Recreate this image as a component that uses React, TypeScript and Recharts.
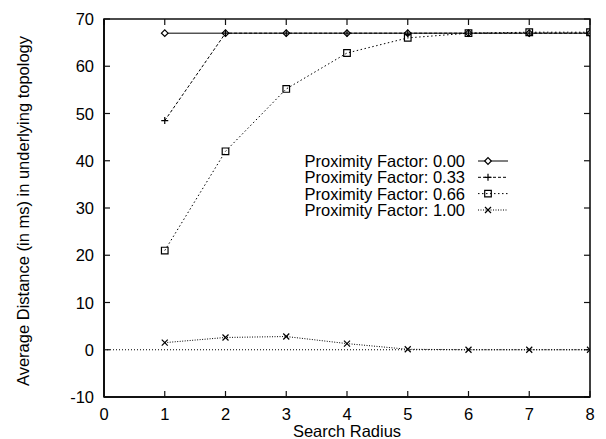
import React from 'react';
import { LineChart, Line, XAxis, YAxis, ReferenceLine, ReferenceArea, Legend } from 'recharts';

const radius = [1, 2, 3, 4, 5, 6, 7, 8];
const pf000 = [67.0, 67.0, 67.0, 67.0, 67.0, 67.0, 67.0, 67.0];
const pf033 = [48.5, 67.0, 67.0, 67.0, 67.0, 67.0, 67.0, 67.0];
const pf066 = [21.0, 42.0, 55.2, 62.8, 66.0, 67.0, 67.2, 67.2];
const pf100 = [1.5, 2.6, 2.8, 1.3, 0.1, 0.0, 0.0, 0.0];
const seriesNames = [
  'Proximity Factor: 0.00',
  'Proximity Factor: 0.33',
  'Proximity Factor: 0.66',
  'Proximity Factor: 1.00',
];
const xTicks = [0, 1, 2, 3, 4, 5, 6, 7, 8];
const yTicks = [-10, 0, 10, 20, 30, 40, 50, 60, 70];

const data = radius.map((r, i) => ({
  r,
  a: pf000[i],
  b: pf033[i],
  c: pf066[i],
  d: pf100[i],
}));

const FONT = '"Liberation Sans", Arial, Helvetica, sans-serif';
const FS = 16.5;
const INK = '#000';
const FRAME = '#111111';

const Diamond = ({ cx, cy }: any) => (
  <path d={`M${cx - 3.3},${cy} L${cx},${cy - 3.3} L${cx + 3.3},${cy} L${cx},${cy + 3.3} Z`} fill="#fff" stroke={INK} strokeWidth={1.2} />
);
const Plus = ({ cx, cy }: any) => (
  <path d={`M${cx - 3.5},${cy} L${cx + 3.5},${cy} M${cx},${cy - 3.5} L${cx},${cy + 3.5}`} stroke={INK} strokeWidth={1.2} fill="none" />
);
const Square = ({ cx, cy }: any) => (
  <path d={`M${cx - 3.3},${cy - 3.3} h6.6 v6.6 h-6.6 Z`} fill="none" stroke={INK} strokeWidth={1.2} />
);
const Cross = ({ cx, cy }: any) => (
  <path d={`M${cx - 3},${cy - 3} L${cx + 3},${cy + 3} M${cx - 3},${cy + 3} L${cx + 3},${cy - 3}`} stroke={INK} strokeWidth={1.2} fill="none" />
);

const markers = [Diamond, Plus, Square, Cross];
const dashes = [undefined, '3 2', '1.5 2.5', '1 1.5'];

const mkDot = (M: any) => (p: any) => <M key={`m-${p.index}`} cx={p.cx} cy={p.cy} />;

const BottomTick = (props: any) => {
  const { x, y, payload } = props;
  return (
    <g>
      <path d={`M${x},${y} L${x},${y - 6}`} stroke={FRAME} strokeWidth={1.2} fill="none" />
      <text x={x} y={y + 23} textAnchor="middle" fontFamily={FONT} fontSize={FS} fill={INK}>
        {payload.value}
      </text>
    </g>
  );
};
const LeftTick = (props: any) => {
  const { x, y, payload } = props;
  return (
    <g>
      <path d={`M${x},${y} L${x + 6},${y}`} stroke={FRAME} strokeWidth={1.2} fill="none" />
      <text x={x - 10} y={y + 6} textAnchor="end" fontFamily={FONT} fontSize={FS} fill={INK}>
        {payload.value}
      </text>
    </g>
  );
};

// mirrored inward ticks on the top and right edges
const TopTickShape = (p: any) => {
  const top = Math.min(p.y1, p.y2);
  return <path d={`M${p.x1},${top} L${p.x1},${top + 6}`} stroke={FRAME} strokeWidth={1.2} fill="none" />;
};
const RightTickShape = (p: any) => {
  const right = Math.max(p.x1, p.x2);
  return <path d={`M${right},${p.y1} L${right - 6},${p.y1}`} stroke={FRAME} strokeWidth={1.2} fill="none" />;
};

const YLabel = (props: any) => {
  const vb = props.viewBox || { x: 0, y: 19, width: 104, height: 378 };
  const x = vb.x + 29;
  const y = vb.y + vb.height / 2 + 3;
  return (
    <text x={x} y={y} transform={`rotate(-90 ${x} ${y})`} textAnchor="middle" fontFamily={FONT} fontSize={FS} fill={INK}>
      Average Distance (in ms) in underlying topology
    </text>
  );
};
const XLabel = (props: any) => {
  const vb = props.viewBox || { x: 104, y: 397, width: 486, height: 42 };
  return (
    <text x={vb.x + vb.width / 2} y={vb.y + 40} textAnchor="middle" fontFamily={FONT} fontSize={FS} fill={INK}>
      Search Radius
    </text>
  );
};

const LegendBox = () => {
  const rowY = [11, 27.3, 43.6, 60];
  return (
    <svg width={240} height={72} style={{ display: 'block', overflow: 'visible' }}>
      {seriesNames.map((name, i) => {
        const M = markers[i];
        return (
          <g key={name}>
            <text x={175} y={rowY[i] + 6} textAnchor="end" fontFamily={FONT} fontSize={FS} fill={INK}>
              {name}
            </text>
            <path d={`M188,${rowY[i]} L218,${rowY[i]}`} stroke={INK} strokeWidth={1} strokeDasharray={dashes[i]} fill="none" />
            <M cx={198} cy={rowY[i]} />
          </g>
        );
      })}
    </svg>
  );
};

export default function App() {
  const keys = ['a', 'b', 'c', 'd'];
  return (
    <div style={{ position: 'absolute', left: 0, top: 0, width: 606, height: 439, background: '#fff' }}>
      <LineChart width={606} height={439} data={data} margin={{ top: 19, right: 16, bottom: 0, left: 0 }}>
        <XAxis
          dataKey="r"
          type="number"
          domain={[0, 8]}
          ticks={xTicks}
          interval={0}
          height={42}
          tickSize={0}
          tickMargin={0}
          tickLine={false}
          tick={<BottomTick />}
          axisLine={{ stroke: INK, strokeWidth: 1.5 }}
          allowDataOverflow
          label={<XLabel />}
        />
        <YAxis
          type="number"
          domain={[-10, 70]}
          ticks={yTicks}
          interval={0}
          width={104}
          tickSize={0}
          tickMargin={0}
          tickLine={false}
          tick={<LeftTick />}
          axisLine={{ stroke: INK, strokeWidth: 1.5 }}
          allowDataOverflow
          label={<YLabel />}
        />
        <ReferenceArea x1={0} x2={8} y1={-10} y2={70} fill="#fefefe" fillOpacity={0} stroke={FRAME} strokeWidth={1.6} ifOverflow="visible" />
        {xTicks.map((t) => (
          <ReferenceLine key={`tx${t}`} x={t} shape={TopTickShape} />
        ))}
        {yTicks.map((t) => (
          <ReferenceLine key={`ty${t}`} y={t} shape={RightTickShape} />
        ))}
        <ReferenceLine y={0} stroke={INK} strokeWidth={1} strokeDasharray="1 2" />
        {keys.map((k, i) => (
          <Line
            key={k}
            dataKey={k}
            name={seriesNames[i]}
            type="linear"
            stroke={INK}
            strokeWidth={1}
            strokeDasharray={dashes[i]}
            dot={mkDot(markers[i])}
            activeDot={false}
            isAnimationActive={false}
          />
        ))}
        <Legend
          layout="horizontal"
          verticalAlign="middle"
          align="center"
          wrapperStyle={{ position: 'absolute', left: 290, top: 150, width: 240, height: 72 }}
          content={() => <LegendBox />}
        />
      </LineChart>
    </div>
  );
}
